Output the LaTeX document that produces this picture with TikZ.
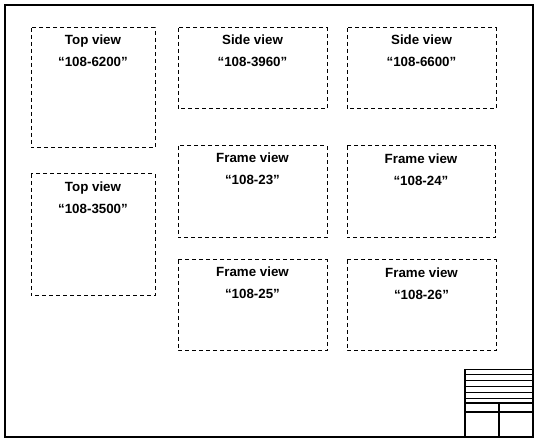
\documentclass[tikz,border=0pt]{standalone}
\usepackage{fontspec}
\setmainfont{Liberation Sans}
\begin{document}
\begin{tikzpicture}[x=0.75pt,y=-0.75pt,
  viewbox/.style={draw=black, line width=0.75pt, dash pattern=on 3pt off 2.25pt},
  ttl/.style={font=\bfseries\fontsize{10}{12}\selectfont, anchor=base, inner sep=0pt},
  thinl/.style={line width=0.75pt},
  thickl/.style={line width=1.3pt}]
\useasboundingbox[fill=white] (0,0) rectangle (540,445);
% outer border
\draw[line width=1.5pt] (5.3,5.3) rectangle (532.7,437);
% view boxes
\draw[viewbox] (31,28) rectangle (155,148);
\draw[viewbox] (31,174) rectangle (155,296);
\draw[viewbox] (178,28) rectangle (327,109);
\draw[viewbox] (347,28) rectangle (496,109);
\draw[viewbox] (178,146) rectangle (327,238);
\draw[viewbox] (347,146) rectangle (495,238);
\draw[viewbox] (178,260) rectangle (327,351);
\draw[viewbox] (347,260) rectangle (496,351);
% labels
\node[ttl] (t1a) at (93,45) {Top view};
\node[ttl] (t1b) at (93,67) {“108-6200”};
\node[ttl] (t2a) at (93,192) {Top view};
\node[ttl] (t2b) at (93,214) {“108-3500”};
\node[ttl] (s1a) at (252.5,45) {Side view};
\node[ttl] (s1b) at (252.5,67) {“108-3960”};
\node[ttl] (s2a) at (421.5,45) {Side view};
\node[ttl] (s2b) at (421.5,67) {“108-6600”};
\node[ttl] (f1a) at (252.5,163) {Frame view};
\node[ttl] (f1b) at (252.5,185) {“108-23”};
\node[ttl] (f2a) at (421,164) {Frame view};
\node[ttl] (f2b) at (421,186) {“108-24”};
\node[ttl] (f3a) at (252.5,277) {Frame view};
\node[ttl] (f3b) at (252.5,299) {“108-25”};
\node[ttl] (f4a) at (421.5,278) {Frame view};
\node[ttl] (f4b) at (421.5,300) {“108-26”};
% title block
\draw[thickl] (465,369.3) -- (465,437);
\foreach \yy in {369.3,374.3,380.3,386.3,392.3,398.3}
  \draw[thinl] (465,\yy) -- (532.7,\yy);
\draw[thickl] (465,403.3) -- (532.7,403.3);
\draw[thickl] (465,412) -- (532.7,412);
\draw[thickl] (499,403.3) -- (499,437);
\end{tikzpicture}
\end{document}
